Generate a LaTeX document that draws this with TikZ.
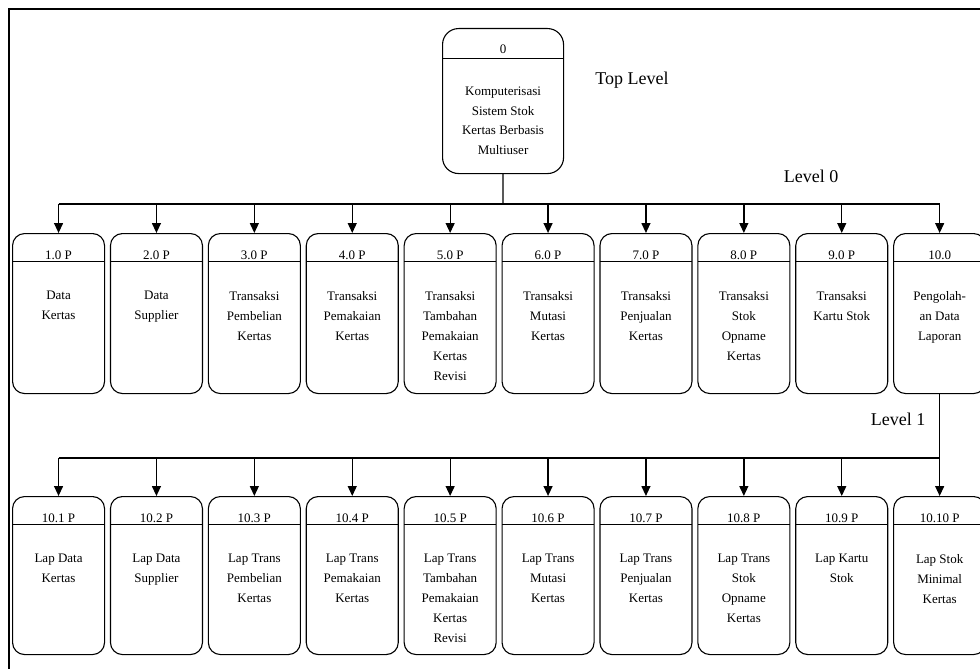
\documentclass[tikz,border=0pt]{standalone}
\usepackage{fontspec}
\setmainfont{Liberation Serif}
\usetikzlibrary{arrows.meta}
\begin{document}
\begin{tikzpicture}[x=1pt,y=-1pt,
  procbox/.style={draw, line width=1.1pt, rounded corners=12pt,
    minimum width=92pt, minimum height=#1, inner sep=0pt, anchor=north west,
    path picture={\draw[line width=1.1pt]
      ([yshift=-28pt]path picture bounding box.north west) --
      ([yshift=-28pt]path picture bounding box.north east);}},
  procbox/.default=160pt,
  idtext/.style={anchor=base, inner sep=0pt, font=\fontsize{13}{16}\selectfont},
  bodytext/.style={anchor=north, inner sep=0pt, align=center,
    font=\fontsize{13}{20}\selectfont},
  lvltext/.style={inner sep=0pt, font=\fontsize{18}{22}\selectfont},
  link/.style={line width=1.3pt},
  arr/.style={line width=1.3pt, -{Triangle[length=10pt,width=9pt]}}]
\useasboundingbox (0,0) rectangle (980,669);

% outer frame (top and left edges)
\draw[line width=1.2pt] (9,669) -- (9,9) -- (980,9);

% top level process
\node[draw, line width=1.1pt, rounded corners=16pt, minimum width=121pt,
  minimum height=145pt, inner sep=0pt, anchor=north west,
  path picture={\draw[line width=1.1pt]
    ([yshift=-30pt]path picture bounding box.north west) --
    ([yshift=-30pt]path picture bounding box.north east);}]
  (top) at (442,28) {};
\node[idtext] (topid) at ([yshift=-26pt]top.north) {0};
\node[anchor=north, inner sep=0pt, align=center,
  font=\fontsize{13}{19.4}\selectfont] (topbody) at ([yshift=-59pt]top.north)
  {Komputerisasi\\Sistem Stok\\Kertas Berbasis\\Multiuser};

\node[lvltext] (lbltop) at (632,80) {Top Level};
\node[lvltext] (lbl0) at (811,176) {Level 0};
\node[lvltext] (lbl1) at (898,419) {Level 1};

% level 0 processes
\foreach \i/\id/\txt in {
  1/1.0 P/Data\\Kertas,
  2/2.0 P/Data\\Supplier,
  3/3.0 P/Transaksi\\Pembelian\\Kertas,
  4/4.0 P/Transaksi\\Pemakaian\\Kertas,
  5/5.0 P/Transaksi\\Tambahan\\Pemakaian\\Kertas\\Revisi,
  6/6.0 P/Transaksi\\Mutasi\\Kertas,
  7/7.0 P/Transaksi\\Penjualan\\Kertas,
  8/8.0 P/Transaksi\\Stok\\Opname\\Kertas,
  9/9.0 P/Transaksi\\Kartu Stok,
  10/10.0/Pengolah-\\an Data\\Laporan}{
  \node[procbox] (p\i) at ({12+97.9*(\i-1)},233) {};
  \node[idtext] (p\i id) at ([yshift=-26pt]p\i.north) {\id};
  \node[bodytext] (p\i body) at ([yshift=-58pt]p\i.north) {\txt};
}

% level 1 processes
\foreach \i/\id/\txt in {
  1/10.1 P/Lap Data\\Kertas,
  2/10.2 P/Lap Data\\Supplier,
  3/10.3 P/Lap Trans\\Pembelian\\Kertas,
  4/10.4 P/Lap Trans\\Pemakaian\\Kertas,
  5/10.5 P/Lap Trans\\Tambahan\\Pemakaian\\Kertas\\Revisi,
  6/10.6 P/Lap Trans\\Mutasi\\Kertas,
  7/10.7 P/Lap Trans\\Penjualan\\Kertas,
  8/10.8 P/Lap Trans\\Stok\\Opname\\Kertas,
  9/10.9 P/Lap Kartu\\Stok,
  10/10.10 P/Lap Stok\\Minimal\\Kertas}{
  \node[procbox=158pt] (q\i) at ({12+97.9*(\i-1)},496) {};
  \node[idtext] (q\i id) at ([yshift=-26pt]q\i.north) {\id};
  \node[bodytext] (q\i body) at ([yshift=-58pt]q\i.north) {\txt};
}

% connectors: top level to level 0
\coordinate (bus0) at (503,204);
\draw[link] (top.south) -- (bus0);
\draw[link] (p1.north |- bus0) -- (p10.north |- bus0);
\foreach \i in {1,...,10}{
  \draw[arr] (p\i.north |- bus0) -- (p\i.north);
}

% connectors: process 10.0 to level 1
\coordinate (bus1) at (503,458);
\draw[link] (q1.north |- bus1) -- (q10.north |- bus1);
\draw[arr] (p10.south) -- (q10.north);
\foreach \i in {1,...,9}{
  \draw[arr] (q\i.north |- bus1) -- (q\i.north);
}
\end{tikzpicture}
\end{document}
